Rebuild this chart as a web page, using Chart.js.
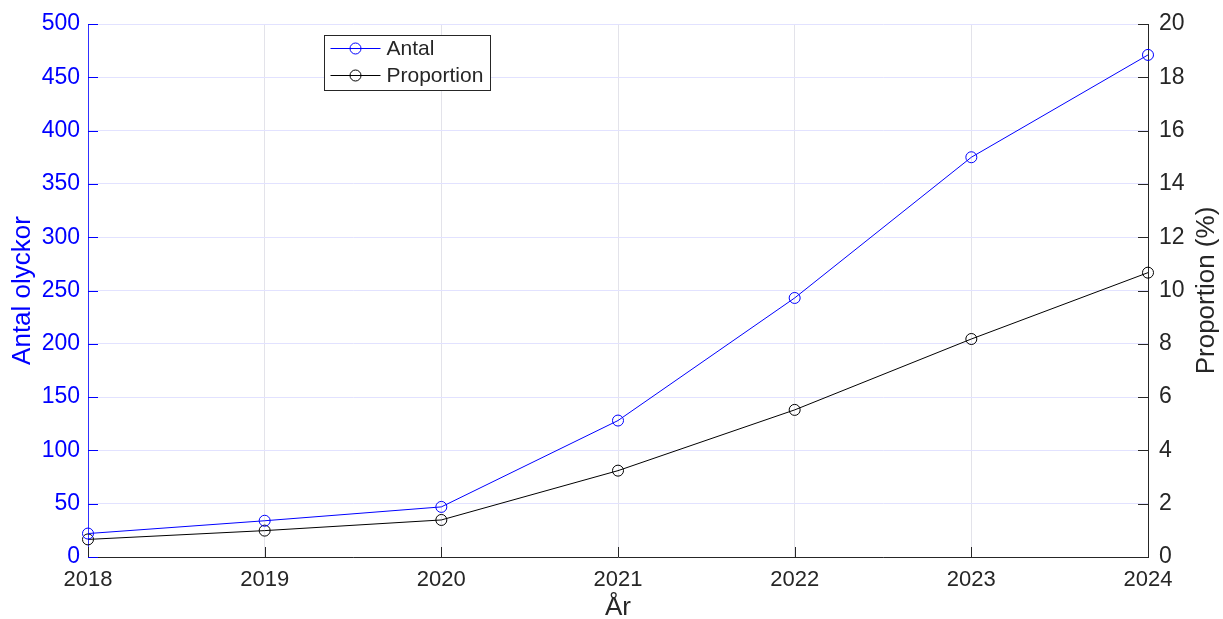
<!DOCTYPE html>
<html>
<head>
<meta charset="utf-8">
<script src="https://cdn.jsdelivr.net/npm/chart.js@4/dist/chart.umd.min.js"></script>
<style>
  html, body { margin: 0; padding: 0; background: #fff; }
  #wrap { width: 1223px; height: 619px; position: relative; }
</style>
</head>
<body>
<div id="wrap"><canvas id="c" width="1223" height="619"></canvas></div>
<script>
// Years on the x axis
const years = ['2018', '2019', '2020', '2021', '2022', '2023', '2024'];
// Number of accidents per year (left axis)
const antal = [22, 34, 47, 128, 243, 375, 471];
// Share of all accidents, in percent (right axis)
const proportion = [0.66, 0.99, 1.39, 3.24, 5.52, 8.18, 10.67];

const FONT = 'Liberation Sans, Arial, Helvetica, sans-serif';
const AX_DARK = '#262626';
const BLUE = '#0000ff';
const TITLE_SIZE = 26;

// Inward tick marks in the style of classic engineering plots
const inwardTicks = {
  id: 'inwardTicks',
  afterDraw(chart) {
    const { ctx, chartArea: a, scales } = chart;
    const L = 10;
    ctx.save();
    ctx.lineWidth = 1;
    ctx.strokeStyle = BLUE;
    scales.y.ticks.forEach((t, i) => {
      const y = Math.round(scales.y.getPixelForTick(i)) + 0.5;
      ctx.beginPath(); ctx.moveTo(a.left, y); ctx.lineTo(a.left + L, y); ctx.stroke();
    });
    ctx.strokeStyle = AX_DARK;
    scales.y1.ticks.forEach((t, i) => {
      const y = Math.round(scales.y1.getPixelForTick(i)) + 0.5;
      ctx.beginPath(); ctx.moveTo(a.right, y); ctx.lineTo(a.right - L, y); ctx.stroke();
    });
    scales.x.ticks.forEach((t, i) => {
      const x = Math.round(scales.x.getPixelForTick(i)) + 0.5;
      ctx.beginPath(); ctx.moveTo(x, a.bottom); ctx.lineTo(x, a.bottom - L); ctx.stroke();
    });
    ctx.restore();
  }
};

// Right axis title, reading bottom-to-top like the left one
const rightTitle = {
  id: 'rightTitle',
  afterDraw(chart) {
    const { ctx, chartArea: a } = chart;
    ctx.save();
    ctx.translate(1207, (a.top + a.bottom) / 2);
    ctx.rotate(-Math.PI / 2);
    ctx.font = TITLE_SIZE + 'px ' + FONT;
    ctx.fillStyle = AX_DARK;
    ctx.textAlign = 'center';
    ctx.textBaseline = 'middle';
    ctx.fillText('Proportion (%)', 0, 0);
    ctx.restore();
  }
};

// Boxed legend inside the plot area, line + circle marker samples
const boxLegend = {
  id: 'boxLegend',
  afterDraw(chart) {
    const { ctx } = chart;
    const x0 = 324.5, y0 = 35.5, w = 166, h = 55;
    ctx.save();
    ctx.fillStyle = '#fff';
    ctx.fillRect(x0, y0, w, h);
    ctx.strokeStyle = AX_DARK;
    ctx.lineWidth = 1;
    ctx.strokeRect(x0, y0, w, h);
    ctx.font = '21px ' + FONT;
    ctx.textBaseline = 'middle';
    chart.data.datasets.forEach((ds, i) => {
      const cy = y0 + 13 + i * 27;
      ctx.strokeStyle = ds.borderColor;
      ctx.beginPath(); ctx.moveTo(x0 + 6, cy); ctx.lineTo(x0 + 56, cy); ctx.stroke();
      ctx.beginPath(); ctx.arc(x0 + 31, cy, 5.5, 0, Math.PI * 2); ctx.stroke();
      ctx.fillStyle = AX_DARK;
      ctx.fillText(ds.label, x0 + 62, cy + 1);
    });
    ctx.restore();
  }
};

new Chart(document.getElementById('c'), {
  type: 'line',
  data: {
    labels: years,
    datasets: [
      {
        label: 'Antal', data: antal, yAxisID: 'y',
        borderColor: BLUE, borderWidth: 1,
        pointStyle: 'circle', pointRadius: 5.5, pointBorderWidth: 1,
        pointBackgroundColor: 'rgba(0,0,0,0)', pointBorderColor: BLUE,
        tension: 0
      },
      {
        label: 'Proportion', data: proportion, yAxisID: 'y1',
        borderColor: '#000000', borderWidth: 1,
        pointStyle: 'circle', pointRadius: 5.5, pointBorderWidth: 1,
        pointBackgroundColor: 'rgba(0,0,0,0)', pointBorderColor: '#000000',
        tension: 0
      }
    ]
  },
  options: {
    responsive: false,
    animation: false,
    devicePixelRatio: 1,
    layout: { padding: { top: 24, left: 0, right: 0, bottom: 0 } },
    plugins: { legend: { display: false }, tooltip: { enabled: false } },
    scales: {
      x: {
        type: 'category',
        offset: false,
        grid: { color: '#e3e3ea', lineWidth: 1, drawTicks: false, tickLength: 0 },
        border: { display: true, color: AX_DARK, width: 1 },
        ticks: { color: AX_DARK, font: { family: FONT, size: 22 }, padding: 10, maxRotation: 0 },
        title: { display: true, text: 'År', color: AX_DARK, font: { family: FONT, size: TITLE_SIZE, lineHeight: 0.85 }, padding: { top: 0, bottom: 0 } },
        afterFit(s) { s.height = 62; }
      },
      y: {
        position: 'left', min: 0, max: 500,
        ticks: { stepSize: 50, color: BLUE, font: { family: FONT, size: 23, lineHeight: 1 }, padding: 8 },
        grid: { color: '#e2e2ff', lineWidth: 1, drawTicks: false, tickLength: 0 },
        border: { display: true, color: '#3030ff', width: 1 },
        title: { display: true, text: 'Antal olyckor', color: BLUE, font: { family: FONT, size: TITLE_SIZE, lineHeight: 1 }, padding: { top: 10, bottom: 0 } },
        afterFit(s) { s.width = 88; }
      },
      y1: {
        position: 'right', min: 0, max: 20,
        ticks: { stepSize: 2, color: AX_DARK, font: { family: FONT, size: 23, lineHeight: 1 }, padding: 11 },
        grid: { display: false, drawTicks: false, tickLength: 0 },
        border: { display: true, color: AX_DARK, width: 1 },
        afterFit(s) { s.width = 75; }
      }
    }
  },
  plugins: [inwardTicks, rightTitle, boxLegend]
});
</script>
</body>
</html>
